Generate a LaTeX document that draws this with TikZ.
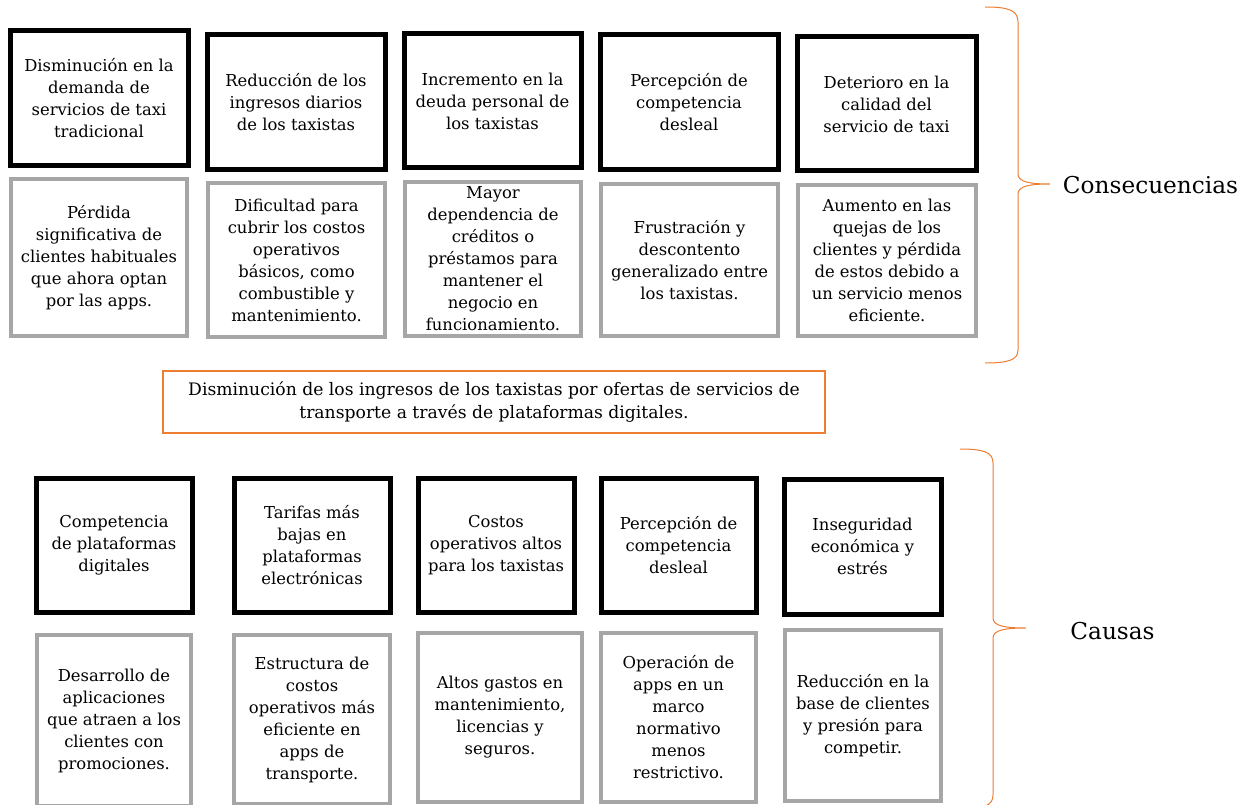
\documentclass[tikz,border=0pt]{standalone}
\usepackage{fontspec}
\setmainfont{DejaVu Serif}
\definecolor{boxgray}{HTML}{A6A6A6}
\definecolor{accent}{HTML}{ED7D31}
\begin{document}
\begin{tikzpicture}[x=1pt,y=-1pt,
  txt/.style={align=center,inner sep=0pt,font=\fontsize{16.4}{22}\selectfont},
  blk/.style={txt,draw=black,line width=5pt,rectangle},
  gry/.style={txt,draw=boxgray,line width=4pt,rectangle},
  probbox/.style={align=center,inner sep=0pt,font=\fontsize{17.2}{23}\selectfont,draw=accent,line width=1.5pt,rectangle},
  brace/.style={draw=accent,line width=1pt},
  lbl/.style={inner sep=0pt,font=\fontsize{23.2}{27}\selectfont}]
\useasboundingbox (0,0) rectangle (1249,805);
\clip (0,0) rectangle (1249,805);
% consequences, top row
\node[blk,minimum width=178pt,minimum height=135pt] (b1) at (99,98.5) {Disminución en la\\demanda de\\servicios de taxi\\tradicional};
\node[blk,minimum width=178pt,minimum height=135pt] (b2) at (296,102.5) {Reducción de los\\ingresos diarios\\de los taxistas};
\node[blk,minimum width=177pt,minimum height=134pt] (b3) at (492.5,101) {Incremento en la\\deuda personal de\\los taxistas};
\node[blk,minimum width=178pt,minimum height=135pt] (b4) at (689,102.5) {Percepción de\\competencia\\desleal};
\node[blk,minimum width=179pt,minimum height=134pt] (b5) at (886.5,104) {Deterioro en la\\calidad del\\servicio de taxi};
% consequences, second row
\node[gry,minimum width=176pt,minimum height=157pt] (g1) at (99,257.5) {Pérdida\\significativa de\\clientes habituales\\que ahora optan\\por las apps.};
\node[gry,minimum width=177pt,minimum height=154pt] (g2) at (296.5,260) {Dificultad para\\cubrir los costos\\operativos\\básicos, como\\combustible y\\mantenimiento.};
\node[gry,minimum width=176pt,minimum height=154pt] (g3) at (493,259) {Mayor\\dependencia de\\créditos o\\préstamos para\\mantener el\\negocio en\\funcionamiento.};
\node[gry,minimum width=177pt,minimum height=152pt] (g4) at (689.5,260) {Frustración y\\descontento\\generalizado entre\\los taxistas.};
\node[gry,minimum width=178pt,minimum height=151pt] (g5) at (887,260.5) {Aumento en las\\quejas de los\\clientes y pérdida\\de estos debido a\\un servicio menos\\eficiente.};
% central problem
\node[probbox,minimum width=662pt,minimum height=62pt] (p) at (494,402) {Disminución de los ingresos de los taxistas por ofertas de servicios de\\transporte a través de plataformas digitales.};
% causes, top row
\node[blk,minimum width=156pt,minimum height=134pt] (c1) at (114,545) {Competencia\\de plataformas\\digitales};
\node[blk,minimum width=156pt,minimum height=134pt] (c2) at (312,545) {Tarifas más\\bajas en\\plataformas\\electrónicas};
\node[blk,minimum width=156pt,minimum height=134pt] (c3) at (496,545) {Costos\\operativos altos\\para los taxistas};
\node[blk,minimum width=155pt,minimum height=134pt] (c4) at (678.5,545) {Percepción de\\competencia\\desleal};
\node[blk,minimum width=157pt,minimum height=135pt] (c5) at (862.5,546.5) {Inseguridad\\económica y\\estrés};
% causes, second row
\node[gry,minimum width=154pt,minimum height=171pt] (d1) at (114,720.5) {Desarrollo de\\aplicaciones\\que atraen a los\\clientes con\\promociones.};
\node[gry,minimum width=156pt,minimum height=169pt] (d2) at (312,719.5) {Estructura de\\costos\\operativos más\\eficiente en\\apps de\\transporte.};
\node[gry,minimum width=164pt,minimum height=169pt] (d3) at (500,717.5) {Altos gastos en\\mantenimiento,\\licencias y\\seguros.};
\node[gry,minimum width=155pt,minimum height=169pt] (d4) at (678.5,717.5) {Operación de\\apps en un\\marco\\normativo\\menos\\restrictivo.};
\node[gry,minimum width=156pt,minimum height=171pt] (d5) at (863,715.5) {Reducción en la\\base de clientes\\y presión para\\competir.};
% braces
\draw[brace] (985,7) .. controls (1008,7) and (1018,10) .. (1018,22) -- (1018,174)
  .. controls (1018,182) and (1030,184) .. (1050,184)
  .. controls (1030,184) and (1018,186) .. (1018,194) -- (1018,350)
  .. controls (1018,360) and (1008,363) .. (985,363);
\draw[brace] (960,449) .. controls (983,449) and (993,452) .. (993,463) -- (993,618)
  .. controls (993,626) and (1005,628) .. (1026,628)
  .. controls (1005,628) and (993,630) .. (993,638) -- (993,795)
  .. controls (993,806) and (983,809) .. (960,809);
\node[lbl] (cons) at (1150.5,185) {Consecuencias};
\node[lbl] (caus) at (1112.5,631) {Causas};
\end{tikzpicture}
\end{document}
